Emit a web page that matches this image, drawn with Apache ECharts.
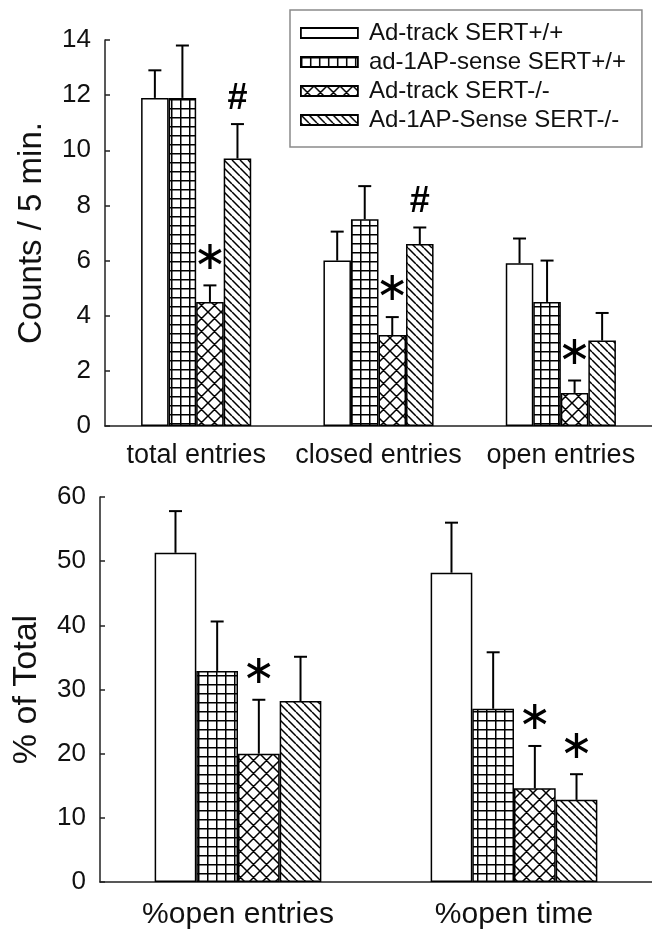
<!DOCTYPE html>
<html><head><meta charset="utf-8">
<script src="https://cdn.jsdelivr.net/npm/echarts@6/dist/echarts.min.js"></script>
<style>html,body{margin:0;padding:0;background:#fff}#c{width:652px;height:930px}</style>
</head><body><div id="c"></div>
<script>
// ---- data ----
const seriesNames = ['Ad-track SERT+/+', 'ad-1AP-sense SERT+/+', 'Ad-track SERT-/-', 'Ad-1AP-Sense SERT-/-'];

const topCategories = ['total entries', 'closed entries', 'open entries'];
const topMeans = [
  [11.9, 6.0, 5.9],
  [11.9, 7.5, 4.5],
  [4.5, 3.3, 1.2],
  [9.7, 6.6, 3.1]
];
const topErrTops = [
  [12.9, 7.05, 6.8],
  [13.8, 8.7, 6.0],
  [5.1, 3.95, 1.65],
  [10.95, 7.2, 4.1]
];
const topMarks = [['', '', ''], ['', '', ''], ['*', '*', '*'], ['#', '#', '']];
const topTicks = { min: 0, max: 14, interval: 2 };
const topAxisName = 'Counts / 5 min.';

const bottomCategories = ['%open entries', '%open time'];
const bottomMeans = [
  [51.3, 48.2],
  [32.9, 27.0],
  [20.0, 14.6],
  [28.2, 12.8]
];
const bottomErrTops = [
  [57.8, 56.0],
  [40.6, 35.8],
  [28.4, 21.2],
  [35.1, 16.8]
];
const bottomMarks = [['', ''], ['', ''], ['*', '*'], ['', '*']];
const bottomTicks = { min: 0, max: 60, interval: 10 };
const bottomAxisName = '% of Total';

// ---- styles ----
const BAR_FRAC = 0.151;
const FONT = 'Liberation Sans, Arial, sans-serif';

function makePattern(kind) {
  const cv = document.createElement('canvas');
  let s = 9;
  if (kind === 'cross') s = 13;
  if (kind === 'stripe') s = 8;
  cv.width = s; cv.height = s;
  const ctx = cv.getContext('2d');
  ctx.fillStyle = '#fff';
  ctx.fillRect(0, 0, s, s);
  ctx.strokeStyle = '#000';
  ctx.lineWidth = 1.5;
  ctx.beginPath();
  if (kind === 'grid') {
    ctx.moveTo(0.75, 0); ctx.lineTo(0.75, s);
    ctx.moveTo(0, 0.75); ctx.lineTo(s, 0.75);
  } else if (kind === 'cross') {
    for (let k = -1; k <= 1; k++) {
      ctx.moveTo(k * s, 0); ctx.lineTo(k * s + s, s);
      ctx.moveTo(k * s, s); ctx.lineTo(k * s + s, 0);
    }
  } else if (kind === 'stripe') {
    for (let k = -1; k <= 1; k++) {
      ctx.moveTo(k * s, 0); ctx.lineTo(k * s + s, s);
    }
  }
  ctx.stroke();
  return { image: cv, repeat: 'repeat' };
}
const patterns = ['#ffffff', makePattern('grid'), makePattern('cross'), makePattern('stripe')];

function makeRender(means, errs, marks, nCat) {
  return function (params, api) {
    const s = Math.floor(params.dataIndex / nCat);
    const c = params.dataIndex % nCat;
    const base = api.coord([c, means[s][c]]);
    const top = api.coord([c, errs[s][c]]);
    const catW = api.size([1, 0])[0];
    const bw = catW * BAR_FRAC;
    const x = base[0] + (s - 1.5) * bw;
    const children = [
      { type: 'line', shape: { x1: x, y1: base[1], x2: x, y2: top[1] }, style: { stroke: '#000', lineWidth: 2 } },
      { type: 'line', shape: { x1: x - 6.5, y1: top[1], x2: x + 6.5, y2: top[1] }, style: { stroke: '#000', lineWidth: 2 } }
    ];
    const m = marks[s][c];
    if (m === '*') {
      children.push({ type: 'text', x: x, y: top[1] - 27, style: { text: '\u2217', fontSize: 40, fontFamily: 'DejaVu Sans', fill: '#000', align: 'center', verticalAlign: 'middle' } });
    } else if (m === '#') {
      children.push({ type: 'text', x: x, y: top[1] - 25, style: { text: '#', fontSize: 36, fontWeight: 'bold', fontFamily: FONT, fill: '#000', align: 'center', verticalAlign: 'middle' } });
    }
    return { type: 'group', children: children };
  };
}

function flatData(errs, nCat) {
  const out = [];
  for (let s = 0; s < errs.length; s++) for (let c = 0; c < nCat; c++) out.push([c, errs[s][c]]);
  return out;
}

const series = [];
seriesNames.forEach(function (name, i) {
  series.push({
    type: 'bar', name: name, xAxisIndex: 0, yAxisIndex: 0, data: topMeans[i],
    barWidth: (BAR_FRAC * 100) + '%', barGap: '0%', z: 2,
    itemStyle: { color: patterns[i], borderColor: '#000', borderWidth: 1.5 }
  });
});
seriesNames.forEach(function (name, i) {
  series.push({
    type: 'bar', name: name, xAxisIndex: 1, yAxisIndex: 1, data: bottomMeans[i],
    barWidth: (BAR_FRAC * 100) + '%', barGap: '0%', z: 2,
    itemStyle: { color: patterns[i], borderColor: '#000', borderWidth: 1.5 }
  });
});
series.push({
  type: 'custom', xAxisIndex: 0, yAxisIndex: 0, z: 5, silent: true,
  renderItem: makeRender(topMeans, topErrTops, topMarks, topCategories.length),
  data: flatData(topErrTops, topCategories.length)
});
series.push({
  type: 'custom', xAxisIndex: 1, yAxisIndex: 1, z: 5, silent: true,
  renderItem: makeRender(bottomMeans, bottomErrTops, bottomMarks, bottomCategories.length),
  data: flatData(bottomErrTops, bottomCategories.length)
});

function yAxis(gridIndex, ticks, name, nameSize, nameGap) {
  return {
    type: 'value', gridIndex: gridIndex, min: ticks.min, max: ticks.max, interval: ticks.interval,
    name: name, nameLocation: 'middle', nameGap: nameGap,
    nameTextStyle: { fontSize: nameSize, fontFamily: FONT, color: '#111' },
    axisLine: { show: true, lineStyle: { color: '#222', width: 1.5 } },
    axisTick: { show: true, inside: true, length: 5, lineStyle: { color: '#222', width: 1.5 } },
    axisLabel: { fontSize: 26, fontFamily: FONT, color: '#111', margin: 14 },
    splitLine: { show: false }
  };
}
function xAxis(gridIndex, cats, margin, size) {
  return {
    type: 'category', gridIndex: gridIndex, data: cats,
    axisLine: { show: true, lineStyle: { color: '#222', width: 1.5 } },
    axisTick: { show: false },
    axisLabel: { fontSize: size, fontFamily: FONT, color: '#111', margin: margin, interval: 0 },
    splitLine: { show: false }
  };
}

const chart = echarts.init(document.getElementById('c'), null, { renderer: 'canvas' });
chart.setOption({
  backgroundColor: '#fff',
  animation: false,
  grid: [
    { left: 105, right: -4, top: 40, height: 386 },
    { left: 100, right: 0, top: 497, height: 386 }
  ],
  legend: {
    data: seriesNames, orient: 'vertical', left: 290, top: 10, selectedMode: false,
    itemWidth: 57, itemHeight: 10, itemGap: 5,
    padding: [11, 16, 15, 10],
    borderColor: '#8a8a8a', borderWidth: 1.5, backgroundColor: '#fff',
    icon: 'rect',
    itemStyle: { borderColor: '#000', borderWidth: 1.8 },
    textStyle: { fontSize: 24, fontFamily: FONT, color: '#111', padding: [0, 0, 0, 6] }
  },
  xAxis: [xAxis(0, topCategories, 16, 27), xAxis(1, bottomCategories, 18, 30)],
  yAxis: [yAxis(0, topTicks, topAxisName, 33, 57), yAxis(1, bottomTicks, bottomAxisName, 34, 56)],
  series: series
});
</script>
</body></html>
